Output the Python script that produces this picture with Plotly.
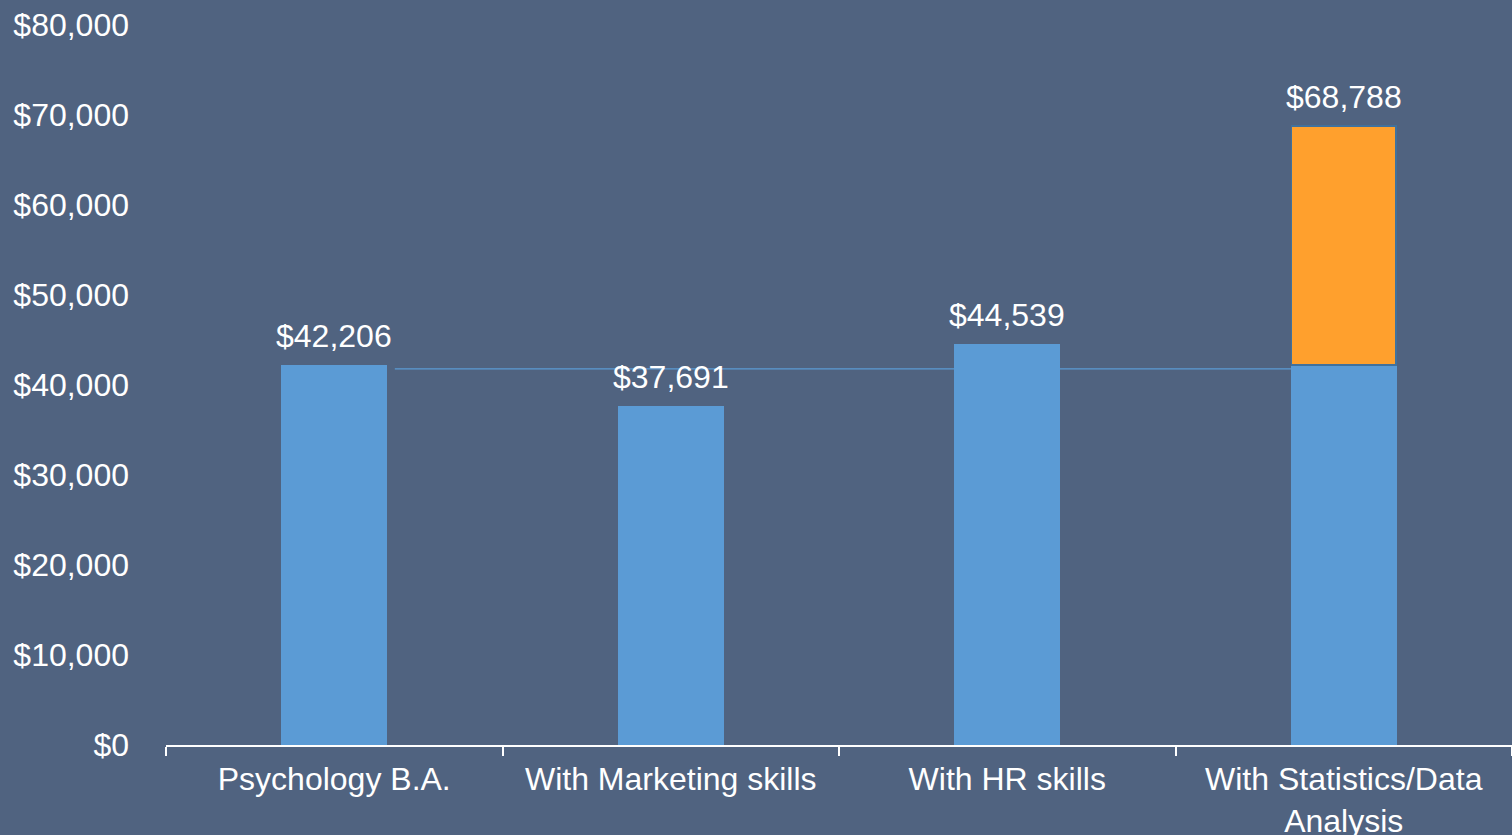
import plotly.graph_objects as go

# salary data
categories = ["Psychology B.A.", "With Marketing skills", "With HR skills",
              "With Statistics/Data<br>Analysis"]
base_salary = [42206, 37691, 44539, 42206]
stats_premium = [None, None, None, 68788 - 42206]
label_values = [42206, 37691, 44539, 68788]
reference_salary = 41800  # thin reference line across the chart

y_ticks = [0, 10000, 20000, 30000, 40000, 50000, 60000, 70000, 80000]

BG = "#506380"
BLUE = "#5b9bd5"
ORANGE = "#ffa02d"
FONT = "Liberation Sans, Arial, sans-serif"
FSIZE = 32

fig = go.Figure()

fig.add_trace(go.Bar(
    x=categories,
    y=base_salary,
    marker=dict(color=BLUE, line=dict(width=0)),
    width=0.315,
    hoverinfo="x+y",
))

fig.add_trace(go.Bar(
    x=categories,
    y=stats_premium,
    marker=dict(color=ORANGE, line=dict(color="#41719c", width=1.5)),
    width=0.31,
    hoverinfo="x+y",
))

# value labels above each bar
for cat, val in zip(categories, label_values):
    fig.add_annotation(
        x=cat, y=val,
        text=f"${val:,}",
        showarrow=False,
        yanchor="bottom",
        yshift=9,
        font=dict(size=FSIZE, color="white", family=FONT),
    )

# reference line behind the bars
fig.add_shape(
    type="line",
    xref="x", yref="y",
    x0=0.18, x1=2.845,
    y0=reference_salary, y1=reference_salary,
    line=dict(color=BLUE, width=1.2),
    layer="below",
)

fig.update_layout(
    width=1512,
    height=835,
    barmode="stack",
    showlegend=False,
    plot_bgcolor=BG,
    paper_bgcolor=BG,
    margin=dict(l=166, r=0, t=25, b=90),
    font=dict(family=FONT, color="white", size=FSIZE),
    xaxis=dict(
        showgrid=False,
        zeroline=False,
        showline=True,
        linecolor="white",
        linewidth=2,
        ticks="outside",
        tickson="boundaries",
        ticklen=9,
        tickwidth=2,
        tickcolor="white",
        ticklabelstandoff=5,
        tickfont=dict(size=FSIZE, color="white", family=FONT),
        range=[-0.5, 3.5],
        automargin=False,
    ),
    yaxis=dict(
        range=[0, 80000],
        tickvals=y_ticks,
        ticktext=[f"${v:,}" for v in y_ticks],
        showgrid=False,
        zeroline=False,
        showline=False,
        ticks="",
        ticklabelstandoff=36,
        tickfont=dict(size=FSIZE, color="white", family=FONT),
        automargin=False,
    ),
)

# drop the default page margin so the chart fills the window
fig.write_html(
    "out.html",
    config={"displayModeBar": False},
    post_script="document.body.style.margin='0';document.body.style.background='" + BG + "';",
)
